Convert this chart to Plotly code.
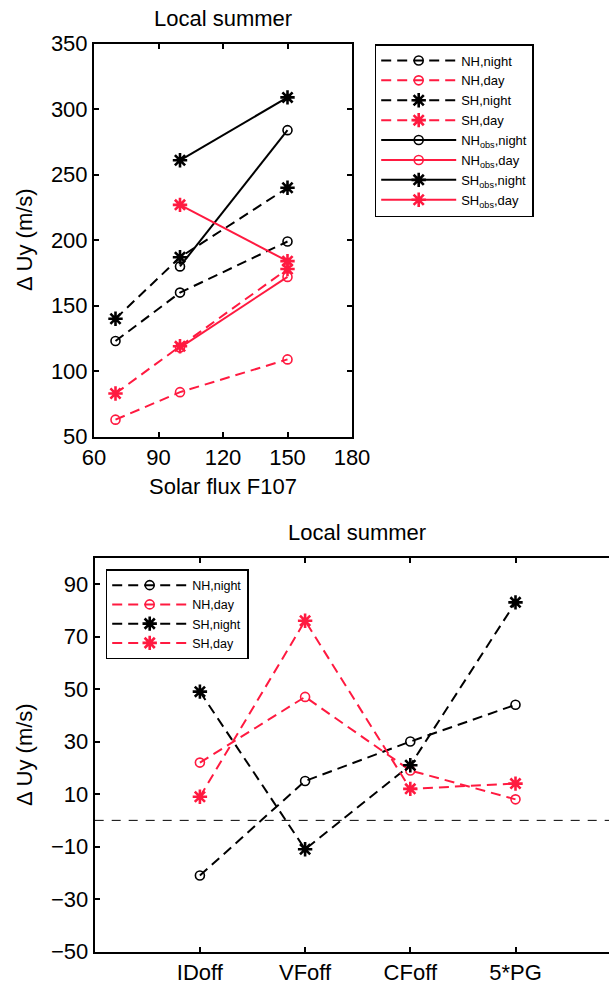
import plotly.graph_objects as go

W, H = 609, 984
BLACK = "#000000"
RED = "#ff1a40"
FONT = "Liberation Sans, Arial, Helvetica, sans-serif"

# ---- top panel data ----
flux = [70, 100, 150]
flux_obs = [100, 150]
nh_night = [123, 160, 199]
nh_day = [63, 84, 109]
sh_night = [140, 187, 240]
sh_day = [83, 119, 178]
nh_obs_night = [180, 284]
nh_obs_day = [118, 172]
sh_obs_night = [261, 309]
sh_obs_day = [227, 184]
top_xticks = [60, 90, 120, 150, 180]
top_yticks = [50, 100, 150, 200, 250, 300, 350]

# ---- bottom panel data ----
experiments = ["IDoff", "VFoff", "CFoff", "5*PG"]
exp_pos = [1, 2, 3, 4]
b_nh_night = [-21, 15, 30, 44]
b_nh_day = [22, 47, 19, 8]
b_sh_night = [49, -11, 21, 83]
b_sh_day = [9, 76, 12, 14]
bot_yticks = [-50, -30, -10, 10, 30, 50, 70, 90]

fig = go.Figure()

def add(x, y, name, color, symbol, dash, xa, ya, legend):
    is_star = symbol.startswith("asterisk")
    fig.add_trace(go.Scatter(
        x=x, y=y, name=name, mode="lines+markers",
        xaxis=xa, yaxis=ya, legend=legend,
        line=dict(color=color, width=2, dash=dash),
        marker=dict(symbol=symbol, size=12 if is_star else 9, color=color,
                    line=dict(color=color, width=2.6 if is_star else 1.6)),
    ))

DASH = "10px,6px"
add(flux, nh_night, "NH,night", BLACK, "circle-open", DASH, "x", "y", "legend")
add(flux, nh_day, "NH,day", RED, "circle-open", DASH, "x", "y", "legend")
add(flux, sh_night, "SH,night", BLACK, "asterisk-open", DASH, "x", "y", "legend")
add(flux, sh_day, "SH,day", RED, "asterisk-open", DASH, "x", "y", "legend")
add(flux_obs, nh_obs_night, "NH<sub>obs</sub>,night", BLACK, "circle-open", "solid", "x", "y", "legend")
add(flux_obs, nh_obs_day, "NH<sub>obs</sub>,day", RED, "circle-open", "solid", "x", "y", "legend")
add(flux_obs, sh_obs_night, "SH<sub>obs</sub>,night", BLACK, "asterisk-open", "solid", "x", "y", "legend")
add(flux_obs, sh_obs_day, "SH<sub>obs</sub>,day", RED, "asterisk-open", "solid", "x", "y", "legend")

add(exp_pos, b_nh_night, "NH,night", BLACK, "circle-open", DASH, "x2", "y2", "legend2")
add(exp_pos, b_nh_day, "NH,day", RED, "circle-open", DASH, "x2", "y2", "legend2")
add(exp_pos, b_sh_night, "SH,night", BLACK, "asterisk-open", DASH, "x2", "y2", "legend2")
add(exp_pos, b_sh_day, "SH,day", RED, "asterisk-open", DASH, "x2", "y2", "legend2")

def px_x(p):
    return p / W

def px_y(p):
    return 1 - p / H

axis_common = dict(showline=True, linecolor=BLACK, linewidth=2, ticks="inside",
                   ticklen=5, tickwidth=1.5, tickcolor=BLACK, showgrid=False,
                   zeroline=False, automargin=False,
                   tickfont=dict(size=22, color=BLACK, family=FONT))

fig.update_layout(
    template="none",
    width=W, height=H, margin=dict(l=0, r=0, t=0, b=0, pad=0), autosize=False,
    paper_bgcolor="white", plot_bgcolor="white",
    font=dict(family=FONT, color=BLACK),
    xaxis=dict(domain=[px_x(94), px_x(352)], range=[60, 180], tickvals=top_xticks,
               mirror="ticks", anchor="y", **axis_common),
    yaxis=dict(domain=[px_y(436.7), px_y(43.7)], range=[50, 350], tickvals=top_yticks,
               mirror="ticks", anchor="x", **axis_common),
    xaxis2=dict(domain=[px_x(94.7), 1.0], range=[0, (609 - 94.7) / 105.2],
                tickvals=exp_pos, ticktext=experiments, mirror="ticks", anchor="y2",
                **axis_common),
    yaxis2=dict(domain=[px_y(951.7), px_y(557.7)], range=[-50, 100], tickvals=bot_yticks,
                ticktext=[str(v).replace("-", "\u2212") for v in bot_yticks],
                mirror=False, anchor="x2", **axis_common),
    legend=dict(x=px_x(374.7), y=px_y(44), xanchor="left", yanchor="top",
                bordercolor=BLACK, borderwidth=1.5, bgcolor="white",
                font=dict(size=13, family=FONT, color=BLACK),
                itemwidth=75, tracegroupgap=0),
    legend2=dict(x=px_x(105.7), y=px_y(569), xanchor="left", yanchor="top",
                 bordercolor=BLACK, borderwidth=1.5, bgcolor="white",
                 font=dict(size=12.5, family=FONT, color=BLACK),
                 itemwidth=75, tracegroupgap=0),
    showlegend=True,
)

# zero reference line in bottom panel
fig.add_shape(type="line", xref="x2 domain", yref="y2", x0=0, x1=1, y0=0, y1=0,
              line=dict(color=BLACK, width=1, dash="9px,8px"))

# titles and axis labels
def label(text, x, y, angle=0):
    fig.add_annotation(text=text, xref="paper", yref="paper", x=px_x(x), y=px_y(y),
                       xanchor="center", yanchor="middle", showarrow=False,
                       textangle=angle, font=dict(size=22, family=FONT, color=BLACK))

label("Local summer", 223, 18)
label("Solar flux F107", 223, 487)
label("\u0394 Uy (m/s)", 24, 240, -90)
label("Local summer", 357, 532)
label("\u0394 Uy (m/s)", 24, 755, -90)

fig.write_html(
    "out.html",
    config={"displayModeBar": False},
    post_script="document.body.style.margin='0';"
                "document.documentElement.style.overflow='hidden';"
                "document.body.style.overflow='hidden';",
)
